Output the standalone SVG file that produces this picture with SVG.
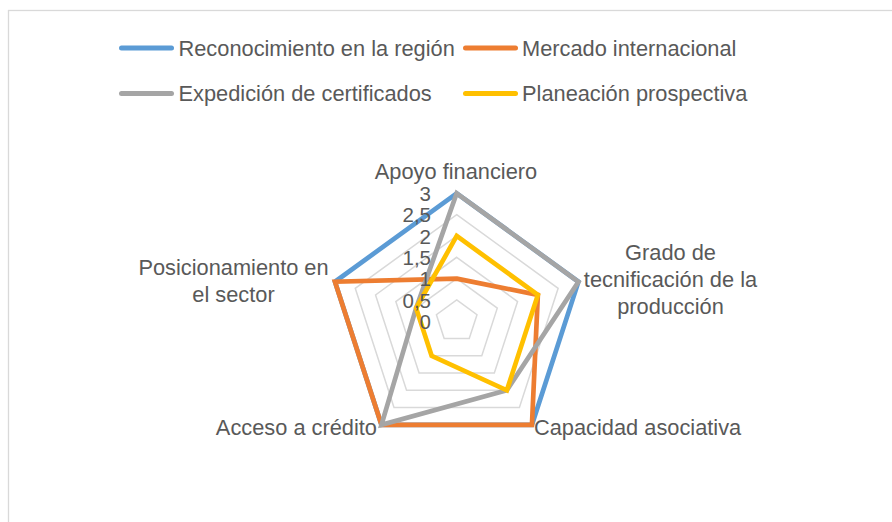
<svg xmlns="http://www.w3.org/2000/svg" width="892" height="522" viewBox="0 0 892 522">
  <style>
    text { font-family: "Liberation Sans", Arial, sans-serif; font-size: 21.8px; fill: #595959; }
    .tick { text-anchor: end; font-size: 20.5px; }
    .mid { text-anchor: middle; }
    .grid { fill: none; stroke: #d9d9d9; stroke-width: 1.5; }
    .series { fill: none; stroke-width: 4.7; stroke-linejoin: miter; }
    .leg { stroke-width: 5; stroke-linecap: round; }
    .blue { stroke: #5B9BD5; }
    .orange { stroke: #ED7D31; }
    .gray { stroke: #A5A5A5; }
    .yellow { stroke: #FFC000; }
  </style>
  <rect x="0" y="0" width="892" height="522" fill="#ffffff"/>
  <rect x="8.5" y="10.5" width="900" height="600" fill="#ffffff" stroke="#d9d9d9" stroke-width="1.3"/>

  <g id="legend">
    <line class="leg blue" x1="121.5" y1="48" x2="171.5" y2="48"/>
    <text x="178.5" y="55.5">Reconocimiento en la región</text>
    <line class="leg orange" x1="465.5" y1="48" x2="515.5" y2="48"/>
    <text x="522" y="55.5">Mercado internacional</text>
    <line class="leg gray" x1="121.5" y1="93.5" x2="171.5" y2="93.5"/>
    <text x="178.5" y="101">Expedición de certificados</text>
    <line class="leg yellow" x1="465.5" y1="93.5" x2="515.5" y2="93.5"/>
    <text x="522" y="101">Planeación prospectiva</text>
  </g>

  <g id="grid">
    <polygon class="grid" points="456.7,299.97 476.99,314.71 469.24,338.56 444.16,338.56 436.41,314.71"/>
    <polygon class="grid" points="456.7,278.63 497.28,308.12 481.78,355.82 431.62,355.82 416.12,308.12"/>
    <polygon class="grid" points="456.7,257.3 517.57,301.52 494.32,373.08 419.08,373.08 395.83,301.52"/>
    <polygon class="grid" points="456.7,235.97 537.86,294.93 506.86,390.33 406.54,390.33 375.54,294.93"/>
    <polygon class="grid" points="456.7,214.63 558.15,288.34 519.4,407.59 394,407.59 355.25,288.34"/>
    <polygon class="grid" points="456.7,193.3 578.44,281.75 531.94,424.85 381.46,424.85 334.96,281.75"/>
  </g>

  <g id="connectors">
    <polygon id="s-reconocimiento" class="series blue" points="456.7,193.3 578.44,281.75 531.94,424.85 381.46,424.85 334.96,281.75"/>
    <polygon id="s-mercado" class="series orange" points="456.7,278.63 537.86,294.93 531.94,424.85 381.46,424.85 334.96,281.75"/>
    <polygon id="s-expedicion" class="series gray" points="456.7,193.3 578.44,281.75 506.86,390.33 381.46,424.85 416.12,308.12"/>
    <polygon id="s-planeacion" class="series yellow" points="456.7,235.97 537.86,294.93 506.86,390.33 431.62,355.82 416.12,308.12"/>
  </g>

  <g id="axis-values">
    <text class="tick" x="431" y="329">0</text>
    <text class="tick" x="431" y="307.7">0,5</text>
    <text class="tick" x="431" y="286.3">1</text>
    <text class="tick" x="431" y="265">1,5</text>
    <text class="tick" x="431" y="243.7">2</text>
    <text class="tick" x="431" y="222.3">2,5</text>
    <text class="tick" x="431" y="201">3</text>
  </g>

  <g id="node-apoyo">
    <text class="mid" x="456" y="178.5">Apoyo financiero</text>
  </g>
  <g id="node-tecnificacion">
    <text class="mid" x="670.5" y="259.5">Grado de</text>
    <text class="mid" x="670.5" y="286.9">tecnificación de la</text>
    <text class="mid" x="670.5" y="314.3">producción</text>
  </g>
  <g id="node-capacidad">
    <text x="534" y="434.5">Capacidad asociativa</text>
  </g>
  <g id="node-acceso">
    <text x="377" y="434.5" text-anchor="end">Acceso a crédito</text>
  </g>
  <g id="node-posicionamiento">
    <text class="mid" x="233.5" y="274.5">Posicionamiento en</text>
    <text class="mid" x="233.5" y="301.9">el sector</text>
  </g>
</svg>
